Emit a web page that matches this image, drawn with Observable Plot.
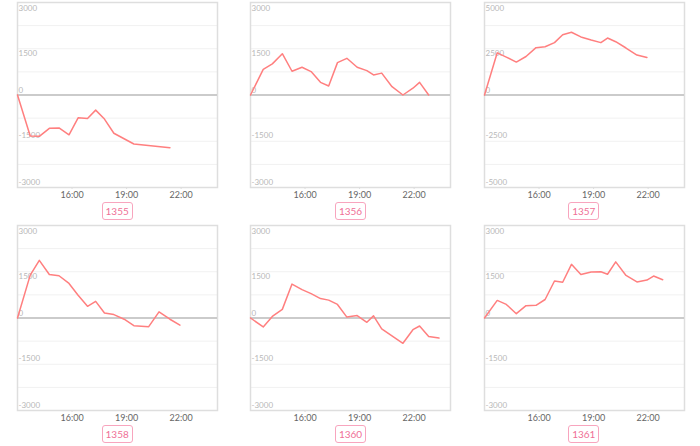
<!DOCTYPE html>
<html>
<head>
<meta charset="utf-8">
<script src="https://cdn.jsdelivr.net/npm/d3@7"></script>
<script src="https://cdn.jsdelivr.net/npm/@observablehq/plot@0.6"></script>
<style>
  html, body { margin: 0; padding: 0; background: #fff; }
  #grid { display: grid; grid-template-columns: 233.33px 233.33px 233.34px; width: 700px; }
  .cell { height: 223px; }
  .cell svg { display: block; }
  .tag { height: 23px; display: flex; justify-content: center; align-items: flex-start; padding-left: 1px; }
  .tag span { margin-top: 2px; border: 1.5px solid #f8a5be; border-radius: 3px; color: #ef6f96;
    font: 10px Lato, "Open Sans", sans-serif; line-height: 16px; padding: 0 3px; }
</style>
</head>
<body>
<div id="grid"></div>
<script>
const times = ["13:00","13:42","14:12","14:45","15:17","15:50","16:20","16:51","17:18","17:47",
  "18:18","18:52","19:24","19:46","20:13","20:47","21:23","21:56","22:18","22:48","23:22"];
const names = ["1355","1356","1357","1358","1360","1361"];
const s1355 = [0,-1330,-1340,-1080,-1070,-1290,-740,-760,-490,-780,-1240,null,-1590,null,null,null,-1710];
const s1356 = [0,830,1010,1340,770,900,760,410,290,1050,1190,900,790,650,710,270,0,220,410,0];
const s1357 = [0,2280,2050,1780,2080,2560,2610,2830,3260,3390,3140,2970,2830,3080,2880,2540,2160,2030];
const s1358 = [0,1390,1870,1410,1370,1120,740,380,540,160,110,-40,-250,null,-280,200,-40,-230];
const s1360 = [0,-290,50,280,1100,920,790,630,580,440,30,80,-140,70,-350,null,-820,-380,-260,-600,-650];
const s1361 = [0,570,440,140,400,410,600,1200,1160,1740,1410,1490,1500,1420,1820,1380,1170,1230,1360,1240];
const series = [s1355, s1356, s1357, s1358, s1360, s1361];
const yMax = [3000, 3000, 5000, 3000, 3000, 3000];
const xTicks = [16, 19, 22];

const toHours = t => { const [h, m] = t.split(":").map(Number); return h + m / 60; };
const grid = document.getElementById("grid");

names.forEach((name, i) => {
  const vals = series[i];
  const data = vals.map((v, j) => ({x: toHours(times[j]), y: v})).filter(d => d.y !== null);
  const M = yMax[i];
  const labelTicks = [-M, -M / 2, 0, M / 2, M];
  const labelDy = [-5, -6, -5, 5, 6];
  const gridTicks = d3.range(-M, M + 1, M / 4);
  const labelMarks = labelTicks.map((v, k) =>
    Plot.text([v], {x: 13, y: d => d, text: d => String(d), textAnchor: "start",
      dx: 1, dy: labelDy[k], fill: "#b8b8b8", fontSize: 8}));
  const chart = Plot.plot({
    width: 233, height: 200,
    marginLeft: 17, marginRight: 16, marginTop: 2, marginBottom: 13,
    style: {fontFamily: "Lato, 'Open Sans', sans-serif", fontSize: "9px", background: "#fff"},
    x: {domain: [13, 24], label: null, axis: null},
    y: {domain: [-M, M], label: null, axis: null},
    marks: [
      Plot.ruleY(gridTicks, {stroke: "#f1f1f1", strokeWidth: 1}),
      Plot.frame({stroke: "#dedede", strokeWidth: 1.5}),
      Plot.ruleY([0], {stroke: "#bdbdbd", strokeWidth: 1.5}),
      Plot.axisX(xTicks, {tickSize: 2, tickPadding: 2, stroke: "#ddd", fill: "#666",
        tickFormat: d => `${d}:00`, label: null}),
      ...labelMarks,
      Plot.line(data, {x: "x", y: "y", stroke: "#ff7f7f", strokeWidth: 1.5})
    ]
  });
  const cell = document.createElement("div");
  cell.className = "cell";
  cell.appendChild(chart);
  const tag = document.createElement("div");
  tag.className = "tag";
  tag.innerHTML = `<span>${name}</span>`;
  cell.appendChild(tag);
  grid.appendChild(cell);
});
</script>
</body>
</html>
